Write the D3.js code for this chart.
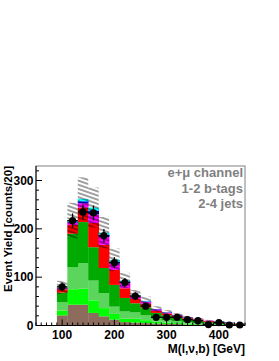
<!DOCTYPE html>
<html>
<head>
<meta charset="utf-8">
<script src="https://cdn.jsdelivr.net/npm/d3@7"></script>
<style>
  body { margin: 0; background: #fff; }
  text { font-family: "Liberation Sans", Arial, sans-serif; }
</style>
</head>
<body>
<div id="chart"></div>
<script>
// bin centres, 20 GeV wide
var binCenters = [100, 120, 140, 160, 180, 200, 220, 240, 260, 280, 300, 320, 340, 360, 380, 400, 420, 440];

// stacked backgrounds, bottom to top
var brown       = [21, 43, 43, 26, 19, 12, 7, 6, 5, 4, 3, 3, 2, 2, 1, 1, 1, 0.5];
var brightGreen = [10, 32, 33, 26, 17, 12, 7, 8, 6, 4, 3, 2, 2, 1, 1, 1, 0, 0.5];
var lightGreen  = [17, 46, 53, 41, 31, 15, 15, 13, 10, 7, 5, 4, 3, 2, 2, 1, 1, 1];
var darkGreen   = [20, 69, 85, 69, 52, 45, 28, 19, 16, 11, 10, 8, 6, 5, 3, 2, 2, 1];
var red         = [7, 18, 30, 50, 48, 31, 20, 9, 8, 4, 4, 3, 2, 2, 2, 2, 1, 1];
var magenta     = [2, 5, 9, 18, 16, 13, 11, 5, 4, 3, 1, 1, 1, 1, 1, 0, 0, 0];
var blue        = [1, 2, 4, 8, 5, 4, 3, 2, 1, 1, 1, 1, 1, 0, 0, 1, 1, 0];
var cyan        = [1, 2, 5, 6, 4, 4, 2, 1, 1, 0, 0, 0, 0, 0, 0, 0, 0, 0];

// observed data
var dataCounts = [80, 217, 235, 233, 186, 130, 89, 61, 40, 17, 17, 17, 12, 10, 2, 6, 1, 1];

var yTicks = [0, 100, 200, 300];
var xTicks = [100, 200, 300, 400];
var infoLines = ["e+\u03bc channel", "1-2 b-tags", "2-4 jets"];

var components = [
  {vals: brown, color: "#8c6d5d"},
  {vals: brightGreen, color: "#00ff00"},
  {vals: lightGreen, color: "#5cd55c"},
  {vals: darkGreen, color: "#00aa00"},
  {vals: red, color: "#ff0000"},
  {vals: magenta, color: "#ff00ff"},
  {vals: blue, color: "#0000ff"},
  {vals: cyan, color: "#00ffff"}
];

var svgWidth = 279, svgHeight = 361;
var frame = {left: 36, right: 245, top: 166, bottom: 325.5};
var binW = 20;

var svg = d3.select("#chart").append("svg")
  .attr("width", svgWidth)
  .attr("height", svgHeight);

var x = d3.scaleLinear().domain([50, 450]).range([frame.left, frame.right]);
var y = d3.scaleLinear().domain([0, 330]).range([frame.bottom, frame.top]);

// hatch pattern for the uncertainty band
var defs = svg.append("defs");
var pat = defs.append("pattern")
  .attr("id", "hatch")
  .attr("patternUnits", "userSpaceOnUse")
  .attr("width", 10)
  .attr("height", 3.9)
  .attr("patternTransform", "rotate(19)");
pat.append("line")
  .attr("x1", 0).attr("y1", 1).attr("x2", 10).attr("y2", 1)
  .attr("stroke", "#000")
  .attr("stroke-width", 0.75);

// stacked bars
var cum = binCenters.map(function() { return 0; });
components.forEach(function(c) {
  var rows = binCenters.map(function(b, i) {
    var lo = cum[i];
    cum[i] += c.vals[i];
    return {b: b, lo: lo, hi: cum[i]};
  });
  svg.append("g").selectAll("rect")
    .data(rows)
    .enter()
    .append("rect")
    .attr("x", d => x(d.b - binW / 2))
    .attr("width", d => x(d.b + binW / 2) - x(d.b - binW / 2) + 0.3)
    .attr("y", d => y(d.hi))
    .attr("height", d => Math.max(0, y(d.lo) - y(d.hi)))
    .attr("fill", c.color);
});

// uncertainty band (hatched) around the total
var totals = cum.slice();
svg.append("g").selectAll("rect")
  .data(binCenters)
  .enter()
  .append("rect")
  .attr("x", (d) => x(d - binW / 2))
  .attr("width", (d) => x(d + binW / 2) - x(d - binW / 2))
  .attr("y", (d, i) => y(totals[i] * 1.17))
  .attr("height", (d, i) => y(totals[i] * 0.83) - y(totals[i] * 1.17))
  .attr("fill", "url(#hatch)");

// data points with error bars
var pts = svg.append("g");
binCenters.forEach(function(b, i) {
  var n = dataCounts[i];
  var e = Math.sqrt(n);
  pts.append("line")
    .attr("x1", x(b)).attr("x2", x(b))
    .attr("y1", y(n + e)).attr("y2", y(Math.max(0, n - e)))
    .attr("stroke", "#000").attr("stroke-width", 1.3);
  pts.append("line")
    .attr("x1", x(b - binW / 2)).attr("x2", x(b + binW / 2))
    .attr("y1", y(n)).attr("y2", y(n))
    .attr("stroke", "#000").attr("stroke-width", 1.3);
  pts.append("circle")
    .attr("cx", x(b)).attr("cy", y(n))
    .attr("r", 3.6)
    .attr("fill", "#000");
});

// frame
svg.append("rect")
  .attr("x", frame.left).attr("y", frame.top)
  .attr("width", frame.right - frame.left)
  .attr("height", frame.bottom - frame.top)
  .attr("fill", "none")
  .attr("stroke", "#808080")
  .attr("stroke-width", 1);

// y axis, ticks inside
var yAxis = svg.append("g");
yAxis.append("line")
  .attr("x1", frame.left).attr("x2", frame.left)
  .attr("y1", frame.top).attr("y2", frame.bottom)
  .attr("stroke", "#000");
d3.range(0, 331, 20).forEach(function(v) {
  var major = yTicks.indexOf(v) >= 0;
  yAxis.append("line")
    .attr("x1", frame.left).attr("x2", frame.left + (major ? 6 : 3))
    .attr("y1", y(v)).attr("y2", y(v))
    .attr("stroke", "#000");
});
yAxis.selectAll("text.tick")
  .data(yTicks)
  .enter()
  .append("text")
  .attr("x", frame.left - 2.5)
  .attr("y", d => y(d))
  .attr("dy", "0.36em")
  .attr("text-anchor", "end")
  .attr("font-size", "12px")
  .attr("font-weight", "bold")
  .text(d => d);

// x axis, ticks inside
var xAxis = svg.append("g");
xAxis.append("line")
  .attr("x1", frame.left).attr("x2", frame.right)
  .attr("y1", frame.bottom).attr("y2", frame.bottom)
  .attr("stroke", "#000");
d3.range(50, 451, 10).forEach(function(v) {
  var major = xTicks.indexOf(v) >= 0;
  xAxis.append("line")
    .attr("x1", x(v)).attr("x2", x(v))
    .attr("y1", frame.bottom).attr("y2", frame.bottom - (major ? 6 : 3))
    .attr("stroke", "#000");
});
xAxis.selectAll("text.tick")
  .data(xTicks)
  .enter()
  .append("text")
  .attr("x", d => x(d))
  .attr("y", 339)
  .attr("text-anchor", "middle")
  .attr("font-size", "12px")
  .attr("font-weight", "bold")
  .text(d => d);

// axis titles
svg.append("text")
  .attr("transform", "translate(12," + frame.top + ") rotate(-90)")
  .attr("text-anchor", "end")
  .attr("font-size", "11.5px")
  .attr("font-weight", "bold")
  .text("Event Yield [counts/20]");

svg.append("text")
  .attr("x", frame.right)
  .attr("y", 353)
  .attr("text-anchor", "end")
  .attr("font-size", "12px")
  .attr("font-weight", "bold")
  .text("M(l,\u03bd,b) [GeV]");

// channel info
svg.append("g").selectAll("text")
  .data(infoLines)
  .enter()
  .append("text")
  .attr("x", frame.right - 2)
  .attr("y", (d, i) => 177 + i * 15.7)
  .attr("text-anchor", "end")
  .attr("font-size", "13px")
  .attr("font-weight", "bold")
  .attr("fill", "#7f7f7f")
  .text(d => d);
</script>
</body>
</html>
